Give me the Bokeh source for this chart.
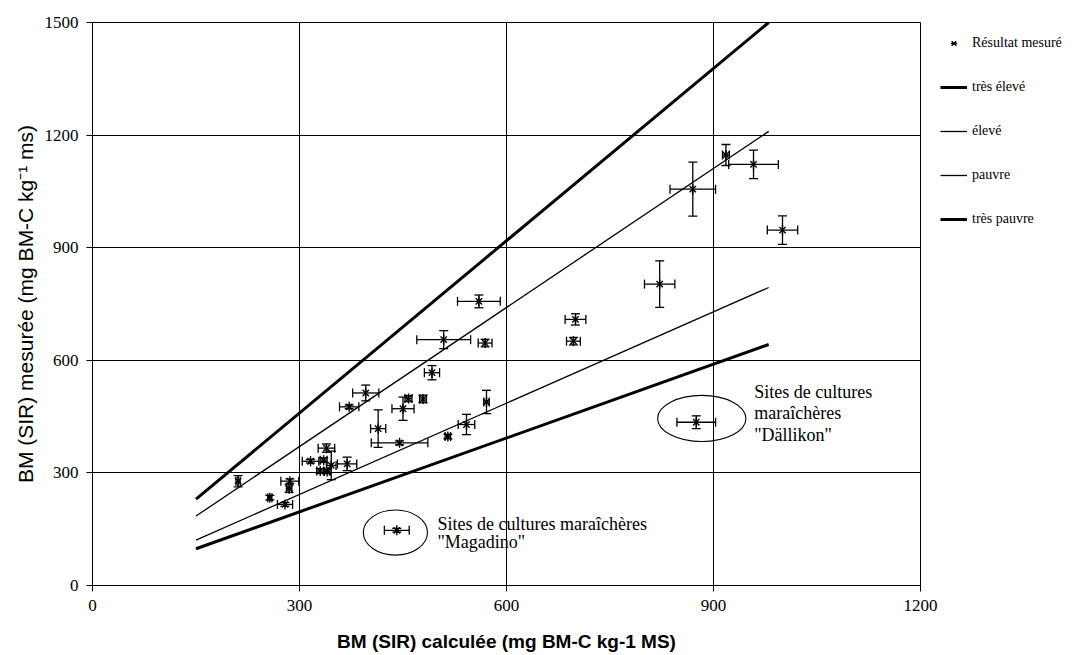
from bokeh.plotting import figure
from bokeh.layouts import row
from bokeh.models import ColumnDataSource, Whisker, TeeHead, Legend, LegendItem, Range1d
from bokeh.core.properties import value
from bokeh.embed import file_html
from bokeh.resources import INLINE

# measured results (calculated x, measured y, error bars)
meas_x = [211, 257, 279, 286, 285, 316, 335, 330, 340, 346, 369, 339, 372, 396, 414, 445, 450,
          458, 479, 492, 509, 515, 542, 560, 569, 571, 697, 700, 822, 870, 918, 958, 1000, 441, 875]
meas_y = [278, 234, 216, 278, 258, 331, 334, 305, 304, 320, 324, 366, 476, 513, 418, 380, 471,
          498, 497, 567, 655, 397, 429, 757, 646, 489, 651, 709, 803, 1056, 1147, 1122, 947, 147, 435]
err_x = [3, 3, 11, 13, 4, 12, 5, 5, 4, 7, 14, 12, 14, 19, 11, 41, 16,
         5, 5, 11, 39, 4, 12, 31, 10, 4, 10, 15, 22, 33, 5, 36, 22, 18, 28]
err_y = [15, 6, 5, 6, 10, 5, 6, 6, 6, 38, 18, 11, 5, 21, 50, 5, 31,
         8, 10, 19, 24, 6, 27, 17, 10, 31, 10, 15, 62, 72, 28, 38, 38, 5, 17]

# reference lines
line_x = [150, 980]
tres_eleve_y = [230, 1500]
eleve_y = [185, 1210]
pauvre_y = [121, 794]
tres_pauvre_y = [98, 642]

# annotations
ell_x = [439, 883]
ell_y = [141, 445]
ell_w = [93, 128]
ell_h = [120, 123]
note_x = [500, 500, 959, 959, 959]
note_y = [165, 117, 515, 459, 400]
note_text = ["Sites de cultures maraîchères", "\"Magadino\"",
             "Sites de cultures", "maraîchères", "\"Dällikon\""]

legend_labels = ["Résultat mesuré", "très élevé", "élevé", "pauvre", "très pauvre"]

x_ticks = [0, 300, 600, 900, 1200]
y_ticks = [0, 300, 600, 900, 1200, 1500]

src = ColumnDataSource(dict(
    x=meas_x, y=meas_y,
    xl=[a - b for a, b in zip(meas_x, err_x)], xu=[a + b for a, b in zip(meas_x, err_x)],
    yl=[a - b for a, b in zip(meas_y, err_y)], yu=[a + b for a, b in zip(meas_y, err_y)],
))

p = figure(width=940, height=655, x_range=Range1d(0, 1200), y_range=Range1d(0, 1500),
           output_backend="svg", toolbar_location=None,
           min_border_left=92, min_border_right=20, min_border_top=22, min_border_bottom=70)
p.outline_line_color = "black"
p.outline_line_width = 1
p.background_fill_color = "white"
p.border_fill_color = "white"

for ax in (p.xaxis[0], p.yaxis[0]):
    ax.major_tick_out = 6
    ax.major_tick_in = 0
    ax.minor_tick_line_color = None
    ax.axis_line_color = "black"
    ax.major_tick_line_color = "black"
    ax.major_label_text_font = "Liberation Serif"
    ax.major_label_text_font_size = "17px"
    ax.major_label_text_color = "black"
    ax.axis_label_text_color = "black"
p.xaxis.ticker = x_ticks
p.yaxis.ticker = y_ticks
p.xaxis.major_label_standoff = 8
p.yaxis.major_label_standoff = 8
p.xaxis.axis_label = "BM (SIR) calculée (mg BM-C kg-1 MS)"
p.xaxis.axis_label_text_font = "Liberation Sans"
p.xaxis.axis_label_text_font_style = "bold"
p.xaxis.axis_label_text_font_size = "19px"
p.xaxis.axis_label_standoff = 17
p.yaxis.axis_label = "BM (SIR) mesurée (mg BM-C kg⁻¹ ms)"
p.yaxis.axis_label_text_font = "Liberation Sans"
p.yaxis.axis_label_text_font_style = "normal"
p.yaxis.axis_label_text_font_size = "21px"
p.yaxis.axis_label_standoff = 5

p.xgrid.grid_line_color = "black"
p.ygrid.grid_line_color = "black"
p.xgrid.grid_line_width = 1
p.ygrid.grid_line_width = 1

p.line(line_x, tres_eleve_y, line_color="black", line_width=3)
p.line(line_x, eleve_y, line_color="black", line_width=1.3)
p.line(line_x, pauvre_y, line_color="black", line_width=1.3)
p.line(line_x, tres_pauvre_y, line_color="black", line_width=3)

wv = Whisker(source=src, base="x", lower="yl", upper="yu", dimension="height",
             line_color="black", line_width=1.3,
             lower_head=TeeHead(size=9, line_color="black", line_width=1.3),
             upper_head=TeeHead(size=9, line_color="black", line_width=1.3))
wh = Whisker(source=src, base="y", lower="xl", upper="xu", dimension="width",
             line_color="black", line_width=1.3,
             lower_head=TeeHead(size=9, line_color="black", line_width=1.3),
             upper_head=TeeHead(size=9, line_color="black", line_width=1.3))
p.add_layout(wv)
p.add_layout(wh)

p.scatter("x", "y", source=src, marker="x", size=9, line_color="black", line_width=1.4)
p.scatter("x", "y", source=src, marker="dash", angle=1.5708, size=10, line_color="black", line_width=1.4)

p.ellipse(x=ell_x, y=ell_y, width=ell_w, height=ell_h, fill_color=None, line_color="black", line_width=1.1)
p.text(x=note_x, y=note_y, text=note_text, text_font=value("Liberation Serif"), text_font_size="18px",
       text_baseline="middle", text_align="left", text_color="black")

# legend panel (separate figure so the legend sits outside the plot frame);
# its renderers use the same data, which lies outside this panel's ranges
lp = figure(width=135, height=655, x_range=Range1d(-2, -1), y_range=Range1d(-2, -1),
            output_backend="svg", toolbar_location=None,
            min_border_left=0, min_border_right=0, min_border_top=0, min_border_bottom=0)
lp.axis.visible = False
lp.grid.visible = False
lp.outline_line_color = None
lp.background_fill_color = "white"
lp.border_fill_color = "white"
g1 = lp.scatter("x", "y", source=src, marker="x", size=9, line_color="black", line_width=1.4)
g2 = lp.scatter("x", "y", source=src, marker="dash", angle=1.5708, size=10, line_color="black", line_width=1.4)
g3 = lp.line(line_x, tres_eleve_y, line_color="black", line_width=3)
g4 = lp.line(line_x, eleve_y, line_color="black", line_width=1.3)
g5 = lp.line(line_x, pauvre_y, line_color="black", line_width=1.3)
g6 = lp.line(line_x, tres_pauvre_y, line_color="black", line_width=3)
legend = Legend(items=[
    LegendItem(label=legend_labels[0], renderers=[g1, g2]),
    LegendItem(label=legend_labels[1], renderers=[g3]),
    LegendItem(label=legend_labels[2], renderers=[g4]),
    LegendItem(label=legend_labels[3], renderers=[g5]),
    LegendItem(label=legend_labels[4], renderers=[g6]),
], location=(0, 358))
legend.label_text_font = "Liberation Serif"
legend.label_text_font_size = "14px"
legend.label_text_color = "black"
legend.glyph_width = 27
legend.glyph_height = 16
legend.label_height = 17
legend.label_standoff = 5
legend.spacing = 27
legend.padding = 0
legend.margin = 0
legend.border_line_alpha = 0
legend.background_fill_alpha = 0
lp.add_layout(legend)

layout = row(p, lp, spacing=0)
open("out.html", "w").write(file_html(layout, INLINE))
